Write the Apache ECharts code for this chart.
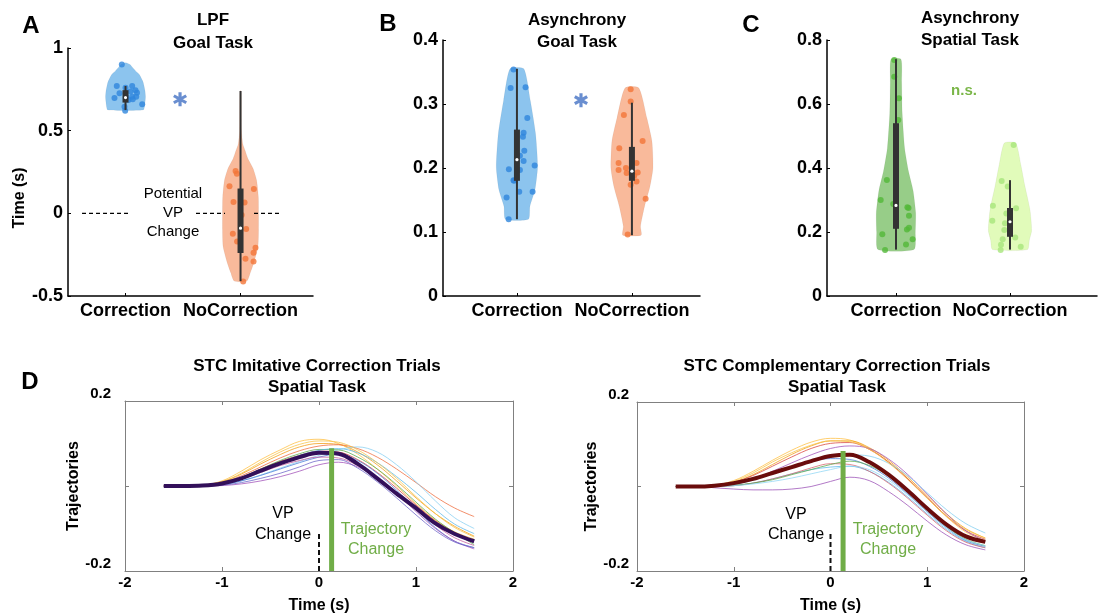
<!DOCTYPE html>
<html>
<head>
<meta charset="utf-8">
<script src="https://cdn.jsdelivr.net/npm/echarts@6/dist/echarts.min.js"></script>
<style>
html, body { margin: 0; padding: 0; background: #fff; }
#chart { width: 1099px; height: 615px; }
</style>
</head>
<body>
<div id="chart"></div>
<script>
// ---- values ----
const categories = ['Correction', 'NoCorrection'];

// A: LPF, goal task. points are [category + jitter, time (s)]
const lpfCorrPoints = [[0.968, 0.90], [0.924, 0.77], [1.0, 0.76], [1.058, 0.77], [1.087, 0.745], [1.043, 0.737],
  [1.1, 0.73], [0.948, 0.727], [0.904, 0.697], [1.006, 0.705], [1.058, 0.705], [1.093, 0.705], [1.026, 0.685],
  [1.063, 0.69], [1.145, 0.66], [0.991, 0.645], [0.997, 0.62]];
const lpfNoCorrPoints = [[1.957, 0.256], [1.968, 0.24], [1.904, 0.164], [2.116, 0.147], [1.939, 0.069], [2.035, 0.065],
  [2.049, -0.095], [1.933, -0.123], [2.13, -0.208], [2.113, -0.238], [2.043, -0.275], [2.113, -0.291], [2.023, -0.412],
  [2.01, -0.01], [1.97, -0.17]];
// violin outlines: [value, half width]
const lpfCorrProfile = [[0.91, 0.01], [0.9, 0.04], [0.885, 0.058], [0.86, 0.09], [0.84, 0.12], [0.8, 0.15],
  [0.775, 0.16], [0.74, 0.17], [0.705, 0.174], [0.67, 0.17], [0.645, 0.165], [0.625, 0.155]];
const lpfNoCorrProfile = [[0.74, 0.005], [0.5, 0.008], [0.42, 0.02], [0.38, 0.04], [0.33, 0.065], [0.27, 0.11],
  [0.2, 0.14], [0.1, 0.155], [0, 0.157], [-0.1, 0.157], [-0.2, 0.152], [-0.3, 0.115], [-0.36, 0.085], [-0.41, 0.055]];
// boxes: [whisker low, q1, median, q3, whisker high]
const lpfCorrBox = [0.625, 0.67, 0.70, 0.745, 0.77];
const lpfNoCorrBox = [-0.41, -0.24, -0.09, 0.15, 0.74];

// B: asynchrony, goal task
const goalCorrPoints = [[0.97, 0.354], [0.945, 0.325], [1.075, 0.326], [1.09, 0.278], [1.058, 0.255], [1.052, 0.249],
  [1.064, 0.227], [1.026, 0.219], [1.058, 0.211], [1.154, 0.204], [0.93, 0.198], [1.026, 0.197], [0.97, 0.181],
  [0.975, 0.18], [1.02, 0.163], [1.136, 0.163], [0.91, 0.154], [0.928, 0.12]];
const goalNoCorrPoints = [[1.989, 0.323], [1.989, 0.304], [1.93, 0.283], [2.093, 0.242], [1.89, 0.231], [1.884, 0.208],
  [2.04, 0.208], [1.948, 0.2], [1.884, 0.197], [1.954, 0.192], [2.05, 0.193], [2.02, 0.188], [2.04, 0.179],
  [1.989, 0.174], [2.119, 0.152], [1.963, 0.096]];
const goalCorrProfile = [[0.355, 0.06], [0.306, 0.116], [0.254, 0.162], [0.202, 0.18], [0.166, 0.157],
  [0.14, 0.113], [0.12, 0.1]];
const goalNoCorrProfile = [[0.325, 0.06], [0.278, 0.13], [0.242, 0.174], [0.2, 0.183], [0.171, 0.157],
  [0.14, 0.11], [0.109, 0.075], [0.095, 0.08]];
const goalCorrBox = [0.12, 0.18, 0.213, 0.26, 0.355];
const goalNoCorrBox = [0.095, 0.18, 0.195, 0.233, 0.302];

// C: asynchrony, spatial task
const spatCorrPoints = [[0.985, 0.7375], [0.985, 0.685], [1.026, 0.618], [1.02, 0.55], [0.92, 0.3625], [0.866, 0.3],
  [0.976, 0.2875], [1.1, 0.277], [1.11, 0.275], [1.114, 0.251], [0.88, 0.193], [1.096, 0.208], [1.114, 0.213],
  [1.146, 0.177], [1.088, 0.161], [0.904, 0.144]];
const spatNoCorrPoints = [[2.032, 0.472], [1.927, 0.359], [1.98, 0.342], [1.85, 0.282], [2.053, 0.274], [1.968, 0.258],
  [1.845, 0.235], [1.956, 0.227], [1.95, 0.206], [2.046, 0.183], [1.936, 0.177], [1.921, 0.16], [2.094, 0.154],
  [1.918, 0.144]];
const spatCorrProfile = [[0.74, 0.044], [0.668, 0.05], [0.57, 0.055], [0.462, 0.076], [0.39, 0.11], [0.33, 0.15],
  [0.26, 0.173], [0.2, 0.17], [0.145, 0.158]];
const spatNoCorrProfile = [[0.478, 0.05], [0.41, 0.095], [0.345, 0.13], [0.27, 0.175], [0.205, 0.19],
  [0.175, 0.17], [0.145, 0.153]];
const spatCorrBox = [0.145, 0.21, 0.283, 0.54, 0.74];
const spatNoCorrBox = [0.145, 0.185, 0.232, 0.275, 0.362];

// significance marks: [x, y]
const goalStarLpf = [1.474, 0.69];
const goalStarAsync = [1.557, 0.306];

// D: trajectories over time (s)
const timeSteps = [-1.6, -1.4, -1.2, -1.0, -0.8, -0.6, -0.4, -0.2, 0, 0.2, 0.4, 0.6, 0.8, 1.0, 1.2, 1.4, 1.6];
const imitMean = [0, 0, 0.001, 0.006, 0.018, 0.036, 0.053, 0.068, 0.078, 0.076, 0.052, 0.018, -0.018, -0.052, -0.088, -0.113, -0.13];
const imitTrials = [
  [0, 0, 0.002, 0.012, 0.035, 0.062, 0.085, 0.105, 0.110, 0.100, 0.075, 0.040, 0.000, -0.042, -0.080, -0.108, -0.125],
  [0, 0, 0.002, 0.010, 0.028, 0.052, 0.074, 0.092, 0.100, 0.098, 0.080, 0.050, 0.012, -0.028, -0.065, -0.095, -0.118],
  [0, 0, 0.001, 0.008, 0.024, 0.045, 0.066, 0.083, 0.094, 0.097, 0.088, 0.068, 0.040, 0.008, -0.025, -0.052, -0.072],
  [0, 0, 0.001, 0.006, 0.020, 0.040, 0.058, 0.072, 0.082, 0.080, 0.062, 0.032, -0.005, -0.045, -0.082, -0.110, -0.128],
  [0, 0, 0.000, 0.003, 0.012, 0.026, 0.042, 0.058, 0.072, 0.085, 0.092, 0.080, 0.050, 0.010, -0.035, -0.075, -0.100],
  [0, 0, 0.000, 0.003, 0.012, 0.025, 0.040, 0.055, 0.068, 0.075, 0.060, 0.030, -0.010, -0.055, -0.098, -0.130, -0.145],
  [0, 0, 0.000, 0.001, 0.005, 0.012, 0.022, 0.035, 0.050, 0.056, 0.045, 0.018, -0.018, -0.060, -0.100, -0.130, -0.148],
  [0, 0, 0.001, 0.005, 0.016, 0.032, 0.048, 0.060, 0.068, 0.066, 0.048, 0.020, -0.015, -0.055, -0.092, -0.122, -0.140],
  [0, 0, 0.001, 0.006, 0.020, 0.040, 0.060, 0.076, 0.086, 0.085, 0.068, 0.040, 0.003, -0.038, -0.078, -0.110, -0.138],
  [0, 0, 0.001, 0.006, 0.018, 0.036, 0.055, 0.072, 0.084, 0.088, 0.078, 0.055, 0.022, -0.015, -0.055, -0.090, -0.112],
  [0, 0, 0.002, 0.010, 0.030, 0.056, 0.080, 0.098, 0.106, 0.103, 0.085, 0.055, 0.018, -0.025, -0.065, -0.098, -0.120],
  [0, 0, 0.000, 0.002, 0.008, 0.018, 0.030, 0.045, 0.060, 0.062, 0.042, 0.010, -0.028, -0.068, -0.105, -0.132, -0.145]
];
const compMean = [0, 0, 0.002, 0.008, 0.018, 0.032, 0.046, 0.060, 0.072, 0.075, 0.058, 0.028, -0.010, -0.052, -0.090, -0.118, -0.131];
const compTrials = [
  [0, 0, 0.003, 0.014, 0.036, 0.062, 0.086, 0.105, 0.114, 0.110, 0.090, 0.058, 0.018, -0.028, -0.072, -0.108, -0.128],
  [0, 0, 0.002, 0.010, 0.028, 0.052, 0.076, 0.096, 0.108, 0.108, 0.092, 0.062, 0.022, -0.022, -0.065, -0.100, -0.122],
  [0, 0, 0.002, 0.010, 0.026, 0.048, 0.070, 0.090, 0.102, 0.104, 0.088, 0.058, 0.018, -0.026, -0.070, -0.105, -0.125],
  [0, 0, 0.001, 0.006, 0.018, 0.036, 0.056, 0.075, 0.090, 0.096, 0.090, 0.065, 0.028, -0.018, -0.065, -0.105, -0.130],
  [0, 0, 0.001, 0.005, 0.015, 0.030, 0.046, 0.060, 0.070, 0.075, 0.072, 0.055, 0.025, -0.015, -0.055, -0.088, -0.110],
  [0, 0, 0.001, 0.005, 0.016, 0.032, 0.048, 0.060, 0.066, 0.064, 0.048, 0.020, -0.018, -0.060, -0.098, -0.128, -0.142],
  [0, 0, 0.000, 0.002, 0.008, 0.018, 0.030, 0.040, 0.046, 0.048, 0.036, 0.010, -0.025, -0.065, -0.102, -0.130, -0.145],
  [0, 0, 0.000, 0.002, 0.008, 0.018, 0.030, 0.044, 0.054, 0.052, 0.036, 0.008, -0.028, -0.068, -0.105, -0.132, -0.145],
  [0, 0, 0.001, 0.003, 0.008, 0.016, 0.028, 0.040, 0.052, 0.060, 0.050, 0.025, -0.012, -0.055, -0.095, -0.125, -0.140],
  [0, 0, -0.003, -0.006, -0.008, -0.008, -0.006, 0.000, 0.012, 0.022, 0.014, -0.012, -0.045, -0.082, -0.115, -0.138, -0.150],
  [0, 0, 0.002, 0.012, 0.032, 0.058, 0.080, 0.098, 0.108, 0.106, 0.088, 0.056, 0.016, -0.028, -0.070, -0.102, -0.122],
  [0, 0, 0.000, 0.002, 0.006, 0.012, 0.020, 0.030, 0.040, 0.048, 0.040, 0.015, -0.020, -0.060, -0.098, -0.126, -0.140]
];
const vpChangeTime = 0;
const vpChangeTop = -0.11;
const trajChangeTime = 0.13;
const imitTrajTop = 0.089;
const compTrajTop = 0.084;
const trajAxisMin = -0.2;

// ---- styling ----
const FONT = 'Liberation Sans, Arial, sans-serif';
const imitColors = ['#ffbf40', '#f39c12', '#ee6b3b', '#d9453a', '#86cff2', '#4a7bd8', '#a050b8', '#c45a9a', '#5aa84a', '#5bb8e8', '#f7c244', '#6a62c8'];
const compColors = ['#ffbf40', '#f39c12', '#d9453a', '#a050b8', '#7fcdf0', '#4a7bd8', '#5bb8e8', '#d8606a', '#5aa84a', '#9a4fb5', '#f7c244', '#8fd6f5'];
// six-armed asterisk
const starPath = 'path://M-2.2,-10L2.2,-10L2.2,10L-2.2,10Z M7.56,-6.905L9.76,-3.095L-7.56,6.905L-9.76,3.095Z M-9.76,-3.095L-7.56,-6.905L9.76,3.095L7.56,6.905Z';

var myChart = echarts.init(document.getElementById('chart'));

function violinXAxis(gi, min, max) {
  return {
    type: 'value', gridIndex: gi, min: min, max: max,
    axisLine: { show: true, onZero: false, lineStyle: { color: '#000', width: 1.5 } },
    axisTick: { show: true, inside: true, length: 3, customValues: [1, 2], lineStyle: { color: '#000' } },
    axisLabel: {
      customValues: [1, 2], formatter: v => categories[Math.round(v) - 1],
      color: '#000', fontFamily: FONT, fontWeight: 'bold', fontSize: 18, margin: 6
    },
    splitLine: { show: false }
  };
}
function violinYAxis(gi, min, max, step) {
  return {
    type: 'value', gridIndex: gi, min: min, max: max, interval: step,
    axisLine: { show: true, lineStyle: { color: '#000', width: 1.5 } },
    axisTick: { show: true, inside: true, length: 3, lineStyle: { color: '#000' } },
    axisLabel: { color: '#000', fontFamily: FONT, fontWeight: 'bold', fontSize: 18, margin: 5 },
    splitLine: { show: false }
  };
}
function trajXAxes(gi) {
  const base = {
    type: 'value', gridIndex: gi, min: -2, max: 2, interval: 1,
    axisLine: { show: true, onZero: false, lineStyle: { color: '#808080', width: 1 } },
    axisTick: { show: true, inside: true, length: 4, lineStyle: { color: '#808080' } },
    splitLine: { show: false }
  };
  return [
    Object.assign({}, base, {
      position: 'bottom',
      axisLabel: { color: '#000', fontFamily: FONT, fontWeight: 'bold', fontSize: 15, margin: 4 },
      name: 'Time (s)', nameLocation: 'middle', nameGap: 27,
      nameTextStyle: { color: '#000', fontFamily: FONT, fontWeight: 'bold', fontSize: 16 }
    }),
    Object.assign({}, base, { position: 'top', axisLabel: { show: false } })
  ];
}
function trajYAxes(gi, labelMargin, nameGap) {
  const base = {
    type: 'value', gridIndex: gi, min: -0.2, max: 0.2, interval: 0.2,
    axisLine: { show: true, onZero: false, lineStyle: { color: '#808080', width: 1 } },
    axisTick: { show: true, inside: true, length: 4, lineStyle: { color: '#808080' } },
    splitLine: { show: false }
  };
  return [
    Object.assign({}, base, {
      position: 'left',
      axisLabel: {
        color: '#000', fontFamily: FONT, fontWeight: 'bold', fontSize: 15, margin: labelMargin,
        verticalAlign: 'bottom', lineHeight: 14,
        formatter: v => (Math.abs(v) < 1e-9 ? '' : (+v.toFixed(1)).toString())
      },
      name: 'Trajectories', nameLocation: 'middle', nameGap: nameGap,
      nameTextStyle: { color: '#000', fontFamily: FONT, fontWeight: 'bold', fontSize: 16 }
    }),
    Object.assign({}, base, { position: 'right', axisLabel: { show: false } })
  ];
}

function violinSeries(ax, center, profile, fill) {
  return {
    type: 'custom', xAxisIndex: ax, yAxisIndex: ax, z: 1, silent: true,
    data: [[center, profile[0][0]]],
    renderItem: function (params, api) {
      const right = profile.map(p => api.coord([center + p[1], p[0]]));
      const left = profile.slice().reverse().map(p => api.coord([center - p[1], p[0]]));
      return {
        type: 'polygon',
        shape: { points: right.concat(left), smooth: 0.2 },
        style: { fill: fill, stroke: 'rgba(0,0,0,0.08)', lineWidth: 0.6 }
      };
    }
  };
}
function pointSeries(ax, pts, color) {
  return {
    type: 'scatter', xAxisIndex: ax, yAxisIndex: ax, z: 2, silent: true,
    symbolSize: 6, data: pts,
    itemStyle: { color: color, opacity: 0.8 }
  };
}
function boxSeries(ax, center, b) {
  return {
    type: 'custom', xAxisIndex: ax, yAxisIndex: ax, z: 3, silent: true,
    data: [[center, b[2]]],
    renderItem: function (params, api) {
      const lo = api.coord([center, b[0]]);
      const q1 = api.coord([center, b[1]]);
      const md = api.coord([center, b[2]]);
      const q3 = api.coord([center, b[3]]);
      const hi = api.coord([center, b[4]]);
      return {
        type: 'group',
        children: [
          { type: 'line', shape: { x1: lo[0], y1: lo[1], x2: hi[0], y2: hi[1] }, style: { stroke: '#333', lineWidth: 2 } },
          { type: 'rect', shape: { x: q3[0] - 3, y: q3[1], width: 6, height: q1[1] - q3[1] }, style: { fill: '#333' } },
          { type: 'circle', shape: { cx: md[0], cy: md[1], r: 1.6 }, style: { fill: '#fff' } }
        ]
      };
    }
  };
}
function starSeries(ax, pos) {
  return {
    type: 'scatter', xAxisIndex: ax, yAxisIndex: ax, z: 4, silent: true,
    symbol: starPath, symbolSize: [14, 14], data: [pos],
    itemStyle: { color: '#4472c4' }
  };
}
function trajSeries(ax, trials, colors, mean, meanColor, trajTop) {
  const pair = ys => timeSteps.map((t, i) => [t, ys[i]]);
  const out = trials.map((ys, i) => ({
    type: 'line', xAxisIndex: ax, yAxisIndex: ax, z: 2, silent: true,
    showSymbol: false, smooth: 0.35, data: pair(ys),
    lineStyle: { color: colors[i], width: 0.9, opacity: 0.85 }
  }));
  out.push({
    type: 'line', xAxisIndex: ax, yAxisIndex: ax, z: 3, silent: true,
    showSymbol: false, smooth: 0.35, data: pair(mean),
    lineStyle: { color: meanColor, width: 4 }
  });
  out.push({
    type: 'line', xAxisIndex: ax, yAxisIndex: ax, z: 4, silent: true, showSymbol: false,
    data: [[trajChangeTime, trajAxisMin], [trajChangeTime, trajTop]],
    lineStyle: { color: '#70ad47', width: 5, cap: 'butt' }
  });
  out.push({
    type: 'line', xAxisIndex: ax, yAxisIndex: ax, z: 4, silent: true, showSymbol: false,
    data: [[vpChangeTime, trajAxisMin], [vpChangeTime, vpChangeTop]],
    lineStyle: { color: '#111', width: 2, type: [5, 3] }
  });
  return out;
}

function txt(x, y, text, size, weight, color, rot) {
  return {
    type: 'text', x: x, y: y, rotation: rot || 0, silent: true,
    style: {
      text: text, fill: color || '#000', align: 'center', verticalAlign: 'middle',
      font: (weight || 'normal') + ' ' + size + 'px ' + FONT
    }
  };
}

const tdAx = trajXAxes(3), tdAy = trajYAxes(3, 14, 14);
const tcAx = trajXAxes(4), tcAy = trajYAxes(4, 8, 9);

// potential VP change dashes in A (on y = 0)
const lpfZeroSegs = [[0.622, 1.048], [1.613, 1.865], [2.117, 2.352]];

var option = {
  backgroundColor: '#fff',
  animation: false,
  grid: [
    { left: 68, top: 48, width: 245, height: 248 },
    { left: 443, top: 40, width: 257, height: 256 },
    { left: 827, top: 40, width: 270, height: 256 },
    { left: 125, top: 401, width: 388, height: 170 },
    { left: 637, top: 402, width: 387, height: 169 }
  ],
  xAxis: [
    violinXAxis(0, 0.5, 2.63),
    violinXAxis(1, 0.357, 2.592),
    violinXAxis(2, 0.395, 2.763),
    tdAx[0], tdAx[1], tcAx[0], tcAx[1]
  ],
  yAxis: [
    violinYAxis(0, -0.5, 1, 0.5),
    violinYAxis(1, 0, 0.4, 0.1),
    violinYAxis(2, 0, 0.8, 0.2),
    tdAy[0], tdAy[1], tcAy[0], tcAy[1]
  ],
  series: [
    violinSeries(0, 1, lpfCorrProfile, '#8cc4ee'),
    violinSeries(0, 2, lpfNoCorrProfile, '#f9ba9b'),
    pointSeries(0, lpfCorrPoints, '#2f86dc'),
    pointSeries(0, lpfNoCorrPoints, '#f27538'),
    boxSeries(0, 1, lpfCorrBox),
    boxSeries(0, 2, lpfNoCorrBox),
    starSeries(0, goalStarLpf),
    {
      type: 'line', xAxisIndex: 0, yAxisIndex: 0, silent: true, showSymbol: false, z: 1,
      data: lpfZeroSegs.flatMap(s => [[s[0], 0], [s[1], 0], null]),
      connectNulls: false,
      lineStyle: { color: '#000', width: 1.2, type: [4, 3] }
    },

    violinSeries(1, 1, goalCorrProfile, '#8cc4ee'),
    violinSeries(1, 2, goalNoCorrProfile, '#f9ba9b'),
    pointSeries(1, goalCorrPoints, '#2f86dc'),
    pointSeries(1, goalNoCorrPoints, '#f27538'),
    boxSeries(1, 1, goalCorrBox),
    boxSeries(1, 2, goalNoCorrBox),
    starSeries(1, goalStarAsync),

    violinSeries(2, 1, spatCorrProfile, '#97cd88'),
    violinSeries(2, 2, spatNoCorrProfile, '#e1fbba'),
    pointSeries(2, spatCorrPoints, '#52b838'),
    pointSeries(2, spatNoCorrPoints, '#a8e67c'),
    boxSeries(2, 1, spatCorrBox),
    boxSeries(2, 2, spatNoCorrBox)
  ]
    .concat(trajSeries(3, imitTrials, imitColors, imitMean, '#33105a', imitTrajTop))
    .concat(trajSeries(5, compTrials, compColors, compMean, '#6a0c0c', compTrajTop)),
  graphic: [
    txt(31, 26, 'A', 24, 'bold'),
    txt(388, 24, 'B', 24, 'bold'),
    txt(751, 25, 'C', 24, 'bold'),
    txt(30, 382, 'D', 24, 'bold'),
    txt(213, 20, 'LPF', 17, 'bold'),
    txt(213, 43, 'Goal Task', 17, 'bold'),
    txt(577, 20, 'Asynchrony', 17, 'bold'),
    txt(577, 42, 'Goal Task', 17, 'bold'),
    txt(970, 18, 'Asynchrony', 17, 'bold'),
    txt(970, 40, 'Spatial Task', 17, 'bold'),
    txt(317, 366, 'STC Imitative Correction Trials', 17, 'bold'),
    txt(317, 387, 'Spatial Task', 17, 'bold'),
    txt(837, 366, 'STC Complementary Correction Trials', 17, 'bold'),
    txt(837, 387, 'Spatial Task', 17, 'bold'),
    txt(20, 198, 'Time (s)', 16, 'bold', '#000', Math.PI / 2),
    txt(173, 194, 'Potential', 15),
    txt(173, 213, 'VP', 15),
    txt(173, 232, 'Change', 15),
    txt(964, 91, 'n.s.', 15, 'bold', '#7ab648'),
    txt(283, 514, 'VP', 16),
    txt(283, 535, 'Change', 16),
    txt(376, 530, 'Trajectory', 16, 'normal', '#70ad47'),
    txt(376, 550, 'Change', 16, 'normal', '#70ad47'),
    txt(796, 515, 'VP', 16),
    txt(796, 535, 'Change', 16),
    txt(888, 530, 'Trajectory', 16, 'normal', '#70ad47'),
    txt(888, 550, 'Change', 16, 'normal', '#70ad47')
  ]
};

myChart.setOption(option);
</script>
</body>
</html>
